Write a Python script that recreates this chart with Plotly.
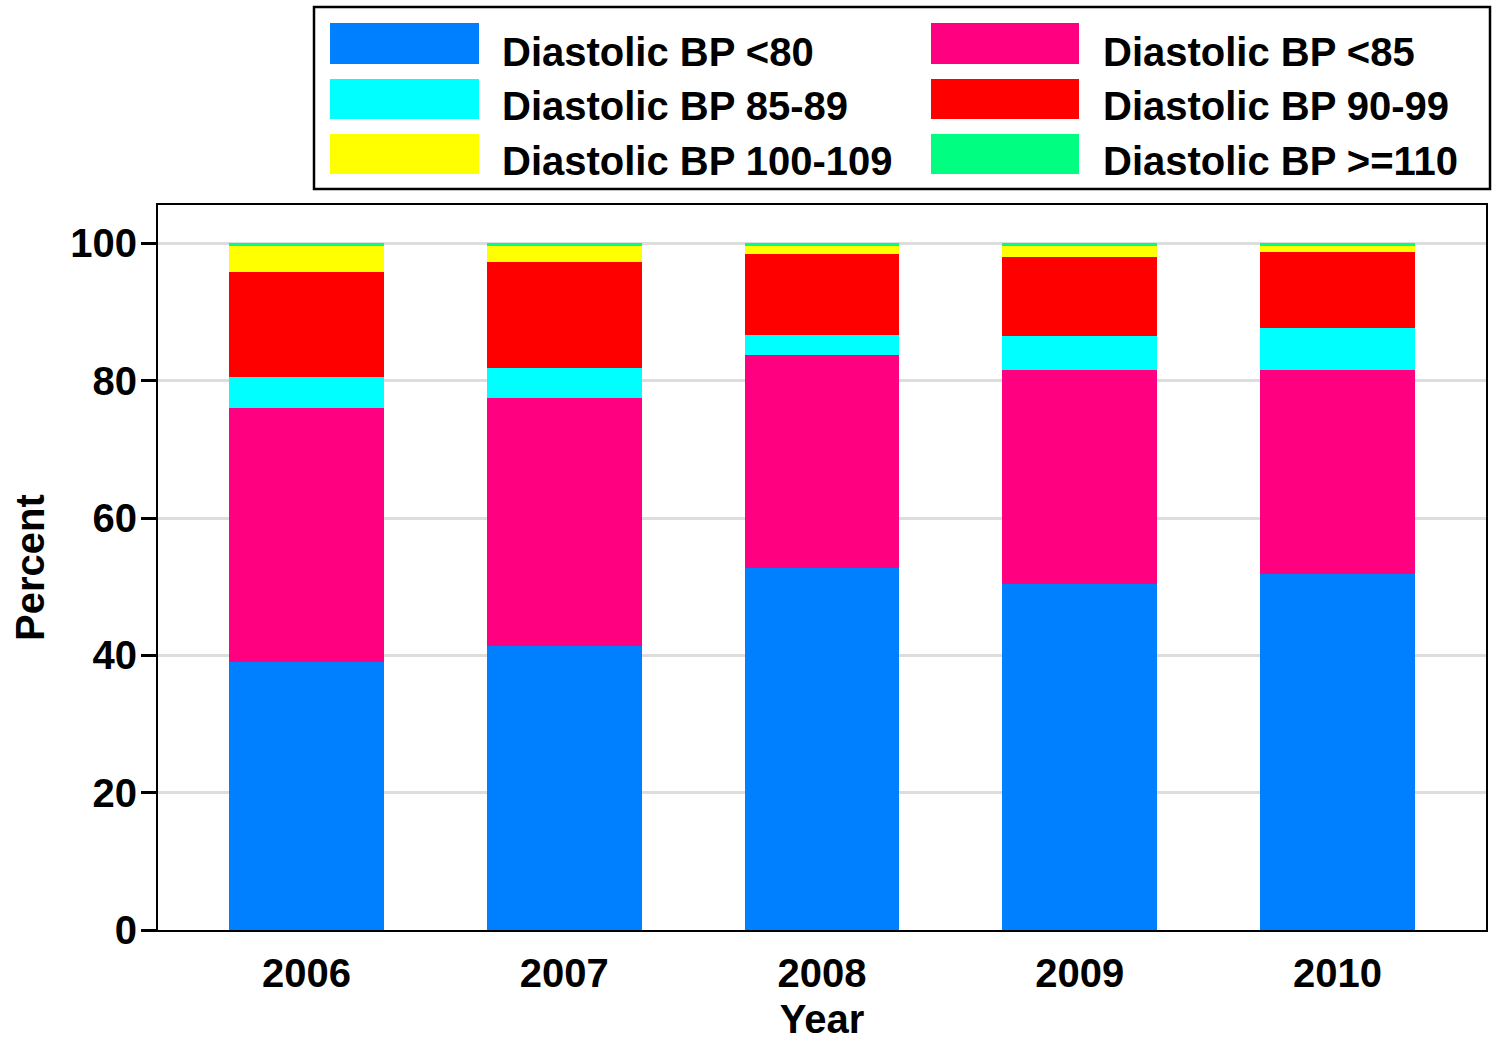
import plotly.graph_objects as go

years = ["2006", "2007", "2008", "2009", "2010"]
series_names = ["Diastolic BP <80", "Diastolic BP <85", "Diastolic BP 85-89",
                "Diastolic BP 90-99", "Diastolic BP 100-109", "Diastolic BP >=110"]
bp_lt80 = [39.1, 41.3, 52.8, 50.4, 51.9]
bp_lt85 = [36.9, 36.2, 30.9, 31.2, 29.7]
bp_85_89 = [4.6, 4.4, 3.0, 4.9, 6.1]
bp_90_99 = [15.2, 15.4, 11.7, 11.5, 11.0]
bp_100_109 = [3.9, 2.4, 1.3, 1.7, 1.0]
bp_ge110 = [0.3, 0.3, 0.3, 0.3, 0.3]
colors = ["#0080FF", "#FF0080", "#00FFFF", "#FF0000", "#FFFF00", "#00FF80"]
y_ticks = [0, 20, 40, 60, 80, 100]

all_series = [bp_lt80, bp_lt85, bp_85_89, bp_90_99, bp_100_109, bp_ge110]

FONT = "Liberation Sans, Arial, Helvetica, sans-serif"
FS = 40
W, H = 1494, 1041
# plot area in reference pixels: x 158..1486, y 205..930
L, T = 158, 205
R = W - 1486
B = H - 930
pw, ph = W - L - R, H - T - B

def px(x):
    return (x - L) / pw

def py(y):
    return (H - B - y) / ph

bold = dict(family=FONT, size=FS, color="black", weight="bold")

fig = go.Figure()
for name, vals, col in zip(series_names, all_series, colors):
    fig.add_trace(go.Bar(x=years, y=vals, name=name, marker=dict(color=col, line=dict(width=0)),
                         width=0.6, showlegend=False))

# Manual legend (2 columns x 3 rows, row-wise order)
shapes = [dict(type="rect", xref="paper", yref="paper",
               x0=px(314), x1=px(1490), y0=py(189), y1=py(7),
               line=dict(color="black", width=2.5), fillcolor="white", layer="above")]
annotations = []
col_x = [(330, 479, 500), (931, 1079, 1101)]
row_y = [(23, 64, 52), (79, 119, 106), (134, 174, 161)]
for i, (name, col) in enumerate(zip(series_names, colors)):
    r, c = divmod(i, 2)
    sx0, sx1, tx = col_x[c]
    sy0, sy1, ty = row_y[r]
    shapes.append(dict(type="rect", xref="paper", yref="paper",
                       x0=px(sx0), x1=px(sx1), y0=py(sy1), y1=py(sy0),
                       line=dict(width=0), fillcolor=col, layer="above"))
    annotations.append(dict(xref="paper", yref="paper", x=px(tx), y=py(ty),
                            xanchor="left", yanchor="middle", showarrow=False,
                            text=name, font=bold))

fig.update_layout(
    width=W, height=H,
    margin=dict(l=L, r=R, t=T, b=B, pad=0, autoexpand=False),
    barmode="stack",
    plot_bgcolor="white", paper_bgcolor="white",
    font=bold,
    shapes=shapes,
    annotations=annotations,
    showlegend=False,
)
fig.update_xaxes(
    type="category", range=[-0.576, 4.576], automargin=False,
    showline=True, linecolor="black", linewidth=2, mirror=True,
    ticks="", showgrid=False,
    tickfont=bold,
    ticklabelstandoff=7,
    title=dict(text="Year", font=bold, standoff=15),
)
fig.update_yaxes(
    range=[0, 105.6], tickvals=y_ticks, automargin=False,
    showline=True, linecolor="black", linewidth=2, mirror=True,
    ticks="outside", ticklen=15, tickwidth=3, tickcolor="black",
    showgrid=True, gridcolor="#DDDDDD", gridwidth=3, zeroline=False,
    tickfont=bold,
    ticklabelstandoff=-4,
    title=dict(text="Percent", font=bold, standoff=13),
)

fig.write_html(
    "out.html",
    config={"displayModeBar": False},
    post_script="document.body.style.margin='0';document.body.style.overflow='hidden';",
)
